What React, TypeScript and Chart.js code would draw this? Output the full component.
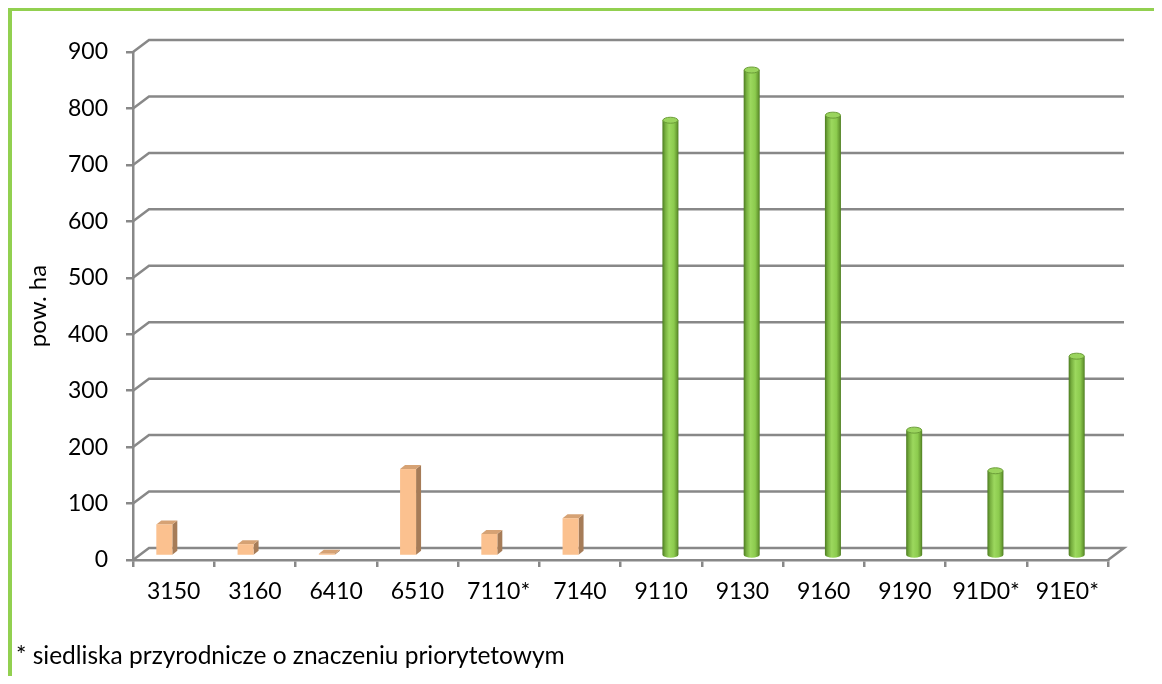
import React, { useEffect, useRef } from "react";
import { Chart, registerables } from "chart.js";

Chart.register(...registerables);

const categories = ["3150", "3160", "6410", "6510", "7110*", "7140", "9110", "9130", "9160", "9190", "91D0*", "91E0*"];
const nonForestValues = [56, 21, 4, 154, 39, 67, null, null, null, null, null, null];
const forestValues = [null, null, null, null, null, null, 772, 861, 781, 223, 151, 354];
const yTickValues = [0, 100, 200, 300, 400, 500, 600, 700, 800, 900];
const yTitle = "pow. ha";
const footnote = "* siedliska przyrodnicze o znaczeniu priorytetowym";

const FONT = "Lato";
const GRID_COLOR = "#888888";
const WALL_DX = 16;
const WALL_DY = -12;
const BAR_DY = -4;

function drawBox(ctx: CanvasRenderingContext2D, x: number, top: number, bottom: number, w: number) {
  const x0 = x - w / 2;
  const x1 = x + w / 2;
  const dx = 5;
  const dy = -4;
  ctx.fillStyle = "#a67c58";
  ctx.beginPath();
  ctx.moveTo(x1, top);
  ctx.lineTo(x1 + dx, top + dy);
  ctx.lineTo(x1 + dx, bottom + dy);
  ctx.lineTo(x1, bottom);
  ctx.closePath();
  ctx.fill();
  ctx.fillStyle = "#d6a274";
  ctx.beginPath();
  ctx.moveTo(x0, top);
  ctx.lineTo(x0 + dx, top + dy);
  ctx.lineTo(x1 + dx, top + dy);
  ctx.lineTo(x1, top);
  ctx.closePath();
  ctx.fill();
  ctx.fillStyle = "#fbc18f";
  ctx.fillRect(x0, top, w, bottom - top);
}

function drawCylinder(ctx: CanvasRenderingContext2D, x: number, top: number, bottom: number, w: number) {
  const rx = w / 2;
  const ry = 3;
  const g = ctx.createLinearGradient(x - rx, 0, x + rx, 0);
  g.addColorStop(0, "#4c7c20");
  g.addColorStop(0.18, "#78b040");
  g.addColorStop(0.42, "#9cd85e");
  g.addColorStop(0.72, "#8ccb4e");
  g.addColorStop(0.9, "#6a9e34");
  g.addColorStop(1, "#4c7c20");
  ctx.fillStyle = g;
  ctx.beginPath();
  ctx.moveTo(x - rx, top);
  ctx.lineTo(x - rx, bottom);
  ctx.ellipse(x, bottom, rx, ry, 0, Math.PI, 0, true);
  ctx.lineTo(x + rx, top);
  ctx.closePath();
  ctx.fill();
  ctx.fillStyle = "#9ad45d";
  ctx.strokeStyle = "#6b9d38";
  ctx.lineWidth = 1;
  ctx.beginPath();
  ctx.ellipse(x, top, rx - 0.5, ry, 0, 0, Math.PI * 2);
  ctx.fill();
  ctx.stroke();
}

const threeDPlugin = {
  id: "threeD",
  beforeDatasetsDraw(chart: any) {
    const { ctx, chartArea, scales } = chart;
    const yScale = scales.y;
    const { left, right } = chartArea;
    ctx.save();
    ctx.strokeStyle = GRID_COLOR;
    ctx.lineWidth = 2.5;
    for (const v of yTickValues) {
      const py = yScale.getPixelForValue(v);
      ctx.beginPath();
      ctx.moveTo(left, py);
      ctx.lineTo(left + WALL_DX, py + WALL_DY);
      ctx.lineTo(right + WALL_DX, py + WALL_DY);
      if (v === 0) ctx.lineTo(right, py);
      ctx.stroke();
    }
    chart.data.datasets.forEach((ds: any, di: number) => {
      const meta = chart.getDatasetMeta(di);
      meta.data.forEach((el: any, i: number) => {
        const val = ds.data[i];
        if (val === null || val === undefined) return;
        const p = el.getProps(["x", "y", "base", "width"], true);
        const top = p.y + BAR_DY;
        const bottom = p.base + BAR_DY;
        if (di === 0) drawBox(ctx, p.x, top, bottom, p.width);
        else drawCylinder(ctx, p.x, top, bottom, p.width);
      });
    });
    ctx.restore();
    return false;
  },
};

export default function App() {
  const ref = useRef<HTMLCanvasElement | null>(null);
  useEffect(() => {
    if (!ref.current) return;
    Chart.defaults.font.family = FONT;
    const chart = new Chart(ref.current, {
      type: "bar",
      data: {
        labels: categories,
        datasets: [
          { label: "nieleśne", data: nonForestValues, backgroundColor: "#fbc18f" },
          { label: "leśne", data: forestValues, backgroundColor: "#92d050" },
        ],
      },
      options: {
        responsive: false,
        animation: false,
        devicePixelRatio: 1,
        categoryPercentage: 0.458,
        barPercentage: 0.86,
        layout: { padding: { left: 0, right: 54, top: 44, bottom: 56 } },
        plugins: { legend: { display: false }, tooltip: { enabled: false } },
        scales: {
          x: {
            afterFit: (s: any) => {
              s.height = 60;
            },
            grid: { drawOnChartArea: false, drawTicks: true, tickLength: 7, color: GRID_COLOR, lineWidth: 2.5, offset: true },
            border: { display: true, color: GRID_COLOR, width: 2.5 },
            ticks: { color: "#000", font: { size: 23, family: FONT }, padding: 11, maxRotation: 0, autoSkip: false },
          },
          y: {
            min: 0,
            max: 900,
            afterFit: (s: any) => {
              s.width = 125;
            },
            grid: { drawOnChartArea: false, drawTicks: true, tickLength: 7, color: GRID_COLOR, lineWidth: 2.5 },
            border: { display: true, color: GRID_COLOR, width: 2.5 },
            ticks: { stepSize: 100, color: "#000", font: { size: 23, family: FONT }, padding: 18 },
            title: { display: true, text: yTitle, color: "#000", font: { size: 24, family: FONT }, padding: { top: 16, bottom: 0 } },
          },
        },
      },
      plugins: [threeDPlugin],
    });
    return () => chart.destroy();
  }, []);
  return (
    <div style={{ position: "relative", width: 1154, height: 668 }}>
      <canvas ref={ref} width={1154} height={668} style={{ position: "absolute", left: 0, top: 0, width: 1154, height: 668 }} />
      <div style={{ position: "absolute", left: 0, top: 0, width: 1154, height: 3, background: "#92d050" }} />
      <div style={{ position: "absolute", left: 0, top: 0, width: 4, height: 668, background: "#92d050" }} />
      <div
        style={{
          position: "absolute",
          left: 8,
          top: 635,
          fontFamily: FONT,
          fontSize: 24.5,
          lineHeight: "24.5px",
          color: "#000",
          whiteSpace: "nowrap",
        }}
      >
        {footnote}
      </div>
    </div>
  );
}
